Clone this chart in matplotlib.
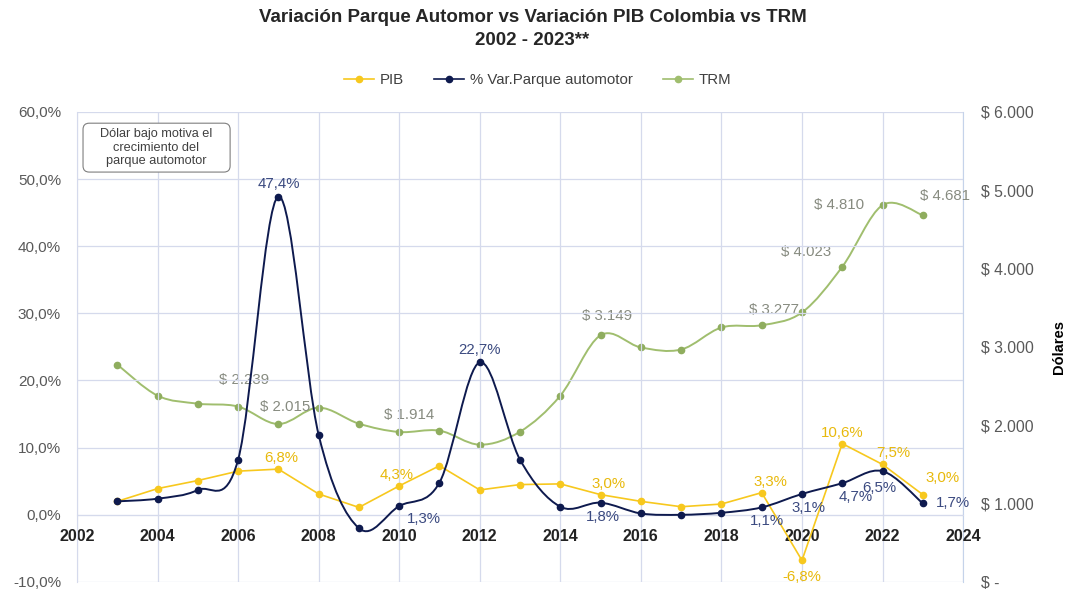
import numpy as np
import matplotlib.pyplot as plt
from matplotlib.path import Path
from matplotlib.patches import PathPatch, FancyBboxPatch
from matplotlib.lines import Line2D

plt.rcParams['font.family'] = ['Liberation Sans', 'DejaVu Sans']

# Datos
years = list(range(2003, 2024))
pib = [2.0, 3.9, 5.1, 6.5, 6.8, 3.1, 1.1, 4.3, 7.3, 3.7, 4.5, 4.6, 3.0, 2.0,
       1.2, 1.6, 3.3, -6.8, 10.6, 7.5, 3.0]
parque = [2.0, 2.4, 3.7, 8.2, 47.4, 11.9, -2.0, 1.3, 4.8, 22.7, 8.2, 1.2, 1.8,
          0.2, 0.0, 0.3, 1.1, 3.1, 4.7, 6.5, 1.7]
trm = [2775, 2378, 2276, 2239, 2015, 2225, 2020, 1914, 1931, 1752, 1918, 2378,
       3149, 2993, 2967, 3248, 3277, 3440, 4023, 4810, 4681]

# etiquetas: año -> posición (dx, dy en puntos)
pib_lbl = {2007: (2, 8), 2010: (-2, 8), 2015: (6, 8), 2019: (6, 8), 2020: (0, -12),
           2021: (0, 8), 2022: (8, 8), 2023: (14, 12)}
parque_lbl = {2007: (0, 9), 2012: (0, 9), 2010: (18, -9), 2015: (2, -10), 2019: (4, -10),
              2020: (5, -10), 2021: (10, -10), 2022: (-2, -12), 2023: (22, 0)}
trm_lbl = {2006: (4, 19), 2007: (5, 12), 2010: (7, 12), 2015: (5, 14), 2019: (9, 11),
           2021: (-26, 11), 2022: (-31, 0), 2023: (16, 14)}

c_pib = '#F7C81E'
c_parque = '#0E1A4E'
c_trm = '#A0BE6E'
c_grid = '#D5DAEC'


def smooth(x, y):
    # curva suavizada tipo Excel (Bezier)
    verts = [(x[0], y[0])]
    codes = [Path.MOVETO]
    n = len(x)
    for i in range(n - 1):
        xa, ya = (x[i - 1], y[i - 1]) if i > 0 else (x[i], y[i])
        xb, yb = (x[i + 2], y[i + 2]) if i + 2 < n else (x[i + 1], y[i + 1])
        c1 = (x[i] + (x[i + 1] - xa) / 6, y[i] + (y[i + 1] - ya) / 6)
        c2 = (x[i + 1] - (xb - x[i]) / 6, y[i + 1] - (yb - y[i]) / 6)
        verts += [c1, c2, (x[i + 1], y[i + 1])]
        codes += [Path.CURVE4] * 3
    return Path(verts, codes)


fig = plt.figure(figsize=(10.65, 5.89), dpi=100)
ax = fig.add_axes([0.0723, 0.012, 0.832, 0.798])
ax2 = ax.twinx()
ax.set_zorder(ax2.get_zorder() + 1)
ax.patch.set_visible(False)

# PIB
ax.plot(years, pib, color=c_pib, lw=1.2, marker='o', ms=4.5, zorder=3)
# Parque automotor
ax.add_patch(PathPatch(smooth(years, parque), fill=False, edgecolor=c_parque, lw=1.4, zorder=4))
ax.plot(years, parque, 'o', color=c_parque, ms=4.5, zorder=5)
# TRM
ax2.add_patch(PathPatch(smooth(years, trm), fill=False, edgecolor=c_trm, lw=1.4, zorder=2))
ax2.plot(years, trm, 'o', color='#8FAD5E', ms=4.5, zorder=3)

fs = 10.8
for yr, (dx, dy) in pib_lbl.items():
    v = pib[years.index(yr)]
    ax.annotate(f'{v:.1f}%'.replace('.', ','), (yr, v), xytext=(dx, dy), textcoords='offset points',
                ha='center', va='center', fontsize=fs, color='#E8B90C', zorder=6)
for yr, (dx, dy) in parque_lbl.items():
    v = parque[years.index(yr)]
    ax.annotate(f'{v:.1f}%'.replace('.', ','), (yr, v), xytext=(dx, dy), textcoords='offset points',
                ha='center', va='center', fontsize=fs, color='#3B4A80', zorder=6)
for yr, (dx, dy) in trm_lbl.items():
    v = trm[years.index(yr)]
    ax2.annotate(f'$ {v:,}'.replace(',', '.'), (yr, v), xytext=(dx, dy), textcoords='offset points',
                 ha='center', va='center', fontsize=fs, color='#878B80', zorder=6)

# Ejes
ax.set_xlim(2002, 2024)
ax.set_ylim(-10, 60)
ax2.set_ylim(0, 6000)
ax.set_xticks(range(2002, 2025, 2))
ax.set_yticks(range(-10, 61, 10))
ax.set_yticklabels([f'{v:.1f}%'.replace('.', ',') for v in range(-10, 61, 10)])
ax2.set_yticks(range(0, 6001, 1000))
ax2.set_yticklabels(['$ -'] + [f'$ {v:,}'.replace(',', '.') for v in range(1000, 6001, 1000)])

ax.spines['bottom'].set_position(('data', 0))
ax.spines['top'].set_visible(False)
ax2.spines['top'].set_visible(False)
ax.spines['bottom'].set_color(c_grid)
ax.spines['left'].set_color(c_grid)
ax.spines['right'].set_visible(False)
ax2.spines['left'].set_visible(False)
ax2.spines['bottom'].set_visible(False)
ax2.spines['right'].set_color('#C5D3EA')

ax.tick_params(axis='x', length=0, pad=10, labelsize=11.5, labelcolor='#222222')
for t in ax.get_xticklabels():
    t.set_fontweight('bold')
ax.tick_params(axis='y', length=0, pad=11.5, labelsize=11, labelcolor='#595959')
ax2.tick_params(axis='y', length=0, pad=13, labelsize=11.3, labelcolor='#595959')

ax.grid(True, color=c_grid, lw=0.9)
ax.set_axisbelow(True)
ax2.set_ylabel('Dólares', fontsize=10.5, fontweight='bold')
ax2.yaxis.set_label_coords(1.1, 0.5)

# Cuadro de texto
ax.add_patch(FancyBboxPatch((0.0068, 0.872), 0.166, 0.104, boxstyle='round,pad=0,rounding_size=0.007',
                            mutation_aspect=886 / 470, transform=ax.transAxes, fc='white',
                            ec='#7F7F7F', lw=0.8, zorder=7))
ax.text(0.0897, 0.924, 'Dólar bajo motiva el\ncrecimiento del\nparque automotor', transform=ax.transAxes,
        ha='center', va='center', fontsize=9.2, color='#404040', linespacing=1.15, zorder=8)

# Título y leyenda
fig.text(0.5, 0.985, 'Variación Parque Automor vs Variación PIB Colombia vs TRM\n2002 - 2023**',
         ha='center', va='top', fontsize=13.5, fontweight='bold', color='#262626', linespacing=1.45)
handles = [Line2D([], [], color=c_pib, marker='o', ms=4.5, lw=1.2),
           Line2D([], [], color=c_parque, marker='o', ms=4.5, lw=1.2),
           Line2D([], [], color=c_trm, marker='o', ms=4.5, lw=1.2)]
fig.legend(handles, ['PIB', '% Var.Parque automotor', 'TRM'], loc='center', bbox_to_anchor=(0.505, 0.864),
           ncol=3, frameon=False, fontsize=10.8, handlelength=2, columnspacing=2.0, handletextpad=0.4,
           labelcolor='#404040')

fig.savefig('out.png', dpi=100)
